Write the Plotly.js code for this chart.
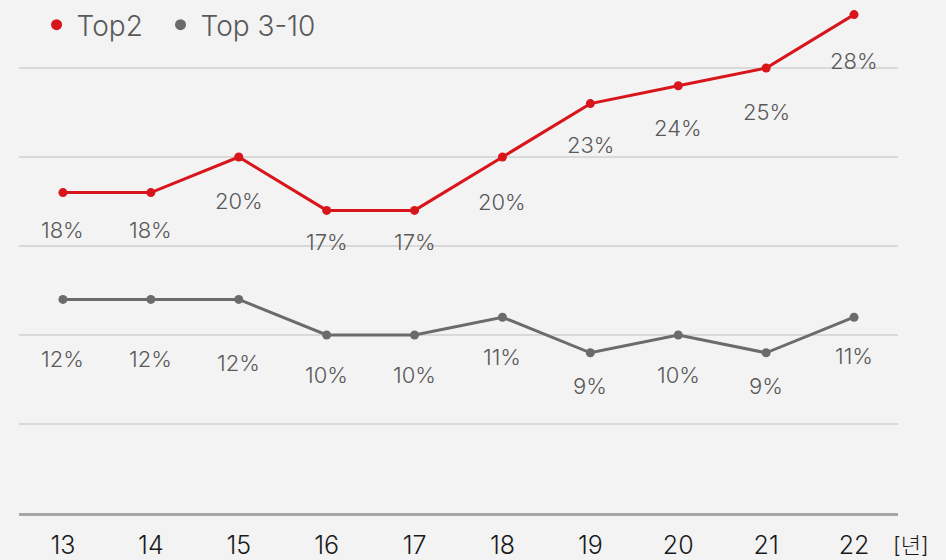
<!DOCTYPE html>
<html>
<head>
<meta charset="utf-8">
<script src="https://cdn.plot.ly/plotly-3.0.1.min.js"></script>
<style>
html,body{margin:0;padding:0;background:#f3f3f3;}
#chart{width:946px;height:560px;}
</style>
</head>
<body>
<div id="chart"></div>
<script>
// ---- data ----
const years = [13, 14, 15, 16, 17, 18, 19, 20, 21, 22];
const top2 = [18, 18, 20, 17, 17, 20, 23, 24, 25, 28];
const top3to10 = [12, 12, 12, 10, 10, 11, 9, 10, 9, 11];
const seriesNames = ['Top2', 'Top 3-10'];
const unitLabel = '[년]';

// label offsets below points (px), as placed in the reference
const top2LabelDrop = [37, 37, 44, 32, 32, 45, 41, 42, 44, 46];
const top3LabelDrop = [60, 60, 64, 40, 40, 40, 33, 40, 33, 39];

const RED = '#d9151c';
const GRAY = '#6b6b6b';
const FONT = 'Inter, "Noto Sans CJK KR", sans-serif';

const traces = [
  {x: years, y: top2, mode: 'lines+markers', line: {color: RED, width: 3}, marker: {color: RED, size: 9}, showlegend: false, hoverinfo: 'skip'},
  {x: years, y: top3to10, mode: 'lines+markers', line: {color: GRAY, width: 3}, marker: {color: GRAY, size: 9}, showlegend: false, hoverinfo: 'skip'},
  {x: [null], y: [null], mode: 'markers', name: seriesNames[0], marker: {color: RED, size: 11}, legend: 'legend'},
  {x: [null], y: [null], mode: 'markers', name: seriesNames[1], marker: {color: GRAY, size: 11}, legend: 'legend2'}
];

const annotations = [];
years.forEach((yr, i) => {
  annotations.push({x: yr, y: top2[i], xref: 'x', yref: 'y', text: top2[i] + '%', showarrow: false,
    yshift: -top2LabelDrop[i], font: {family: FONT, size: 22, color: '#595959', weight: 300}});
  annotations.push({x: yr, y: top3to10[i], xref: 'x', yref: 'y', text: top3to10[i] + '%', showarrow: false,
    yshift: -top3LabelDrop[i], font: {family: FONT, size: 22, color: '#595959', weight: 300}});
});
annotations.push({x: 1, xref: 'paper', xanchor: 'left', xshift: -7, y: 0, yref: 'paper', yanchor: 'middle', yshift: -32,
  text: unitLabel, showarrow: false, font: {family: FONT, size: 22, color: '#1a1a1a', weight: 300}});

const legendFont = {family: FONT, size: 28, color: '#595959', weight: 300};

const layout = {
  width: 946, height: 560,
  margin: {l: 19, r: 48, t: 0, b: 47},
  paper_bgcolor: '#f3f3f3', plot_bgcolor: '#f3f3f3',
  font: {family: FONT, color: '#1a1a1a'},
  xaxis: {range: [12.5, 22.5], tickvals: years, ticktext: years.map(String), showgrid: false, zeroline: false,
    showline: true, linecolor: '#a6a6a6', linewidth: 3, ticks: '', ticklabelstandoff: 8,
    tickfont: {family: FONT, size: 25, color: '#1a1a1a', weight: 300}},
  yaxis: {range: [0, 28.82], dtick: 5, showticklabels: false, showgrid: true, gridcolor: '#d9d9d9', gridwidth: 2,
    zeroline: false, ticks: ''},
  showlegend: true,
  legend: {orientation: 'h', x: 0.02, y: 1.0, xanchor: 'left', yanchor: 'top', bgcolor: 'rgba(0,0,0,0)',
    font: legendFont, itemwidth: 30},
  legend2: {orientation: 'h', x: 0.161, y: 1.0, xanchor: 'left', yanchor: 'top', bgcolor: 'rgba(0,0,0,0)',
    font: legendFont, itemwidth: 30},
  annotations: annotations
};

Plotly.newPlot('chart', traces, layout, {displayModeBar: false, staticPlot: true});
</script>
</body>
</html>
